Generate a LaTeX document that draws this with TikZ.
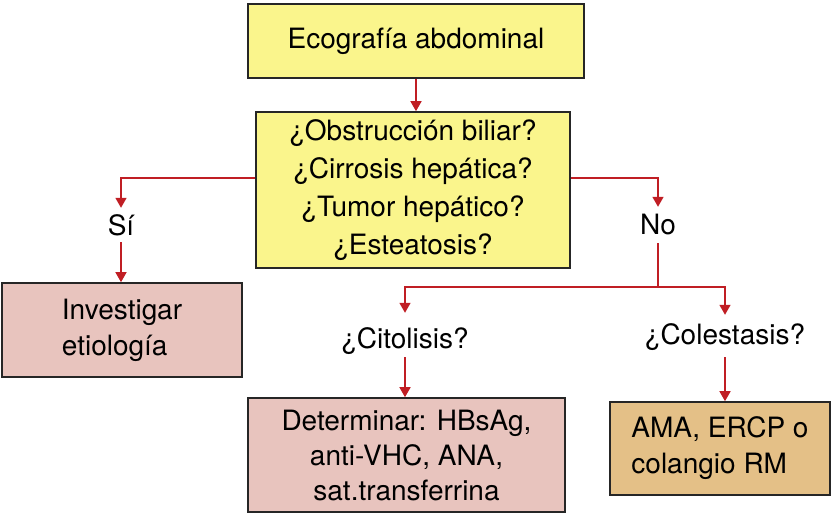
\documentclass[tikz,border=0pt]{standalone}
\usepackage{fontspec}
\setmainfont{TeX Gyre Heros}
\usetikzlibrary{arrows.meta}
\definecolor{boxyellow}{RGB}{250,245,140}
\definecolor{boxpink}{RGB}{232,196,190}
\definecolor{boxtan}{RGB}{228,192,135}
\definecolor{arrred}{RGB}{192,30,36}
\begin{document}
\begin{tikzpicture}[x=1pt,y=-1pt,
  box/.style={draw=black!85, line width=1.6pt, inner sep=0pt, font=\fontsize{28}{38}\selectfont},
  yel/.style={box, fill=boxyellow, align=center},
  pinkc/.style={box, fill=boxpink, align=center, font=\fontsize{28}{35}\selectfont},
  pinkl/.style={box, fill=boxpink, align=left, font=\fontsize{28}{36}\selectfont},
  tanl/.style={box, fill=boxtan, align=left, font=\fontsize{28}{36}\selectfont},
  lbl/.style={inner sep=0pt, font=\fontsize{28}{38}\selectfont},
  arr/.style={draw=arrred, line width=1.5pt, -{Triangle[length=10pt,width=11pt]}},
  ln/.style={draw=arrred, line width=1.5pt}]
\useasboundingbox (0,0) rectangle (834,513);
\node[yel, minimum width=336pt, minimum height=74pt] (eco) at (416,41) {Ecografía abdominal};
\node[yel, minimum width=314pt, minimum height=156pt] (q) at (413,190)
  {¿Obstrucción biliar?\\¿Cirrosis hepática?\\¿Tumor hepático?\\¿Esteatosis?};
\node[pinkl, minimum width=240pt, minimum height=94pt] (inv) at (122,330) {\raisebox{-2pt}{}Investigar\\etiología};
\node[pinkc, minimum width=317pt, minimum height=114pt] (det) at (406.5,455)
  {Determinar: HBsAg,\\anti-VHC, ANA,\\sat.transferrina};
\node[tanl, minimum width=220pt, minimum height=93pt] (ama) at (720,448.5) {AMA, ERCP o\\colangio RM};
\node[lbl, minimum height=34pt] (si) at (121,225) {Sí};
\node[lbl, minimum height=36pt] (no) at (658,225) {No};
\node[lbl, minimum height=32pt] (cit) at (405,341) {¿Citolisis?};
\node[lbl, minimum height=40pt] (col) at (725,337) {¿Colestasis?};
\coordinate (j) at (658,287);
\draw[arr] (eco) -- (eco |- q.north);
\draw[arr] ([yshift=12pt]q.west) -| (si.north);
\draw[arr] (si.south) -- (inv.north -| si.south);
\draw[arr] ([yshift=12pt]q.east) -| (no.north);
\draw[ln] (no.south) -- (j);
\draw[arr] (j) -| ([yshift=12pt]cit.north);
\draw[arr] (j) -| ([yshift=2pt]col.north);
\draw[arr] (cit.south) -- (det.north -| cit.south);
\draw[arr] (col.south) -- (ama.north -| col.south);
\end{tikzpicture}
\end{document}
